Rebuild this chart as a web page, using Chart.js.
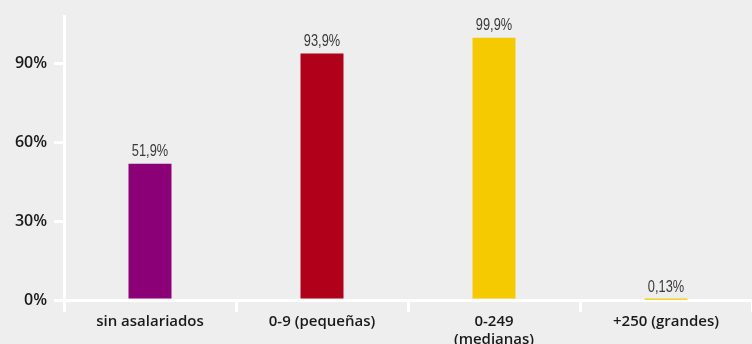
<!DOCTYPE html>
<html lang="es">
<head>
<meta charset="UTF-8">
<title>Empresas por tamaño</title>
<script src="https://cdn.jsdelivr.net/npm/chart.js"></script>
<style>
  html, body { margin: 0; padding: 0; background: #eeeeee; }
  #wrap { width: 752px; height: 344px; overflow: hidden; }
</style>
</head>
<body>
<div id="wrap"><canvas id="chart" width="752" height="344"></canvas></div>
<script>
  const categories = ['sin asalariados', '0-9 (pequeñas)', ['0-249', '(medianas)'], '+250 (grandes)'];
  const values = [51.9, 93.9, 99.9, 0.13];
  const valueLabels = ['51,9%', '93,9%', '99,9%', '0,13%'];
  const yTicks = [0, 30, 60, 90];
  const barColors = ['#8b0076', '#b10019', '#f5ca00', '#f5ca00'];

  // etiquetas encima de cada barra (texto estrechado, como en el original)
  const valueLabelPlugin = {
    id: 'valueLabels',
    afterDatasetsDraw(chart) {
      const ctx = chart.ctx;
      const meta = chart.getDatasetMeta(0);
      ctx.font = '16px "Liberation Sans", sans-serif';
      ctx.fillStyle = '#3a3a3a';
      ctx.textAlign = 'center';
      ctx.textBaseline = 'bottom';
      meta.data.forEach((bar, i) => {
        ctx.save();
        ctx.translate(bar.x, bar.y - 4);
        ctx.scale(0.8, 1);
        ctx.fillText(valueLabels[i], 0, 0);
        ctx.restore();
      });
    }
  };

  const ctx = document.getElementById('chart').getContext('2d');
  new Chart(ctx, {
    type: 'bar',
    data: {
      labels: categories,
      datasets: [{
        data: values,
        backgroundColor: barColors,
        barPercentage: 0.25,
        categoryPercentage: 1.0
      }]
    },
    options: {
      responsive: false,
      animation: false,
      layout: { padding: { top: 10, left: 0, right: 0, bottom: 0 } },
      plugins: { legend: { display: false }, tooltip: { enabled: false } },
      scales: {
        x: {
          offset: true,
          border: { display: true, color: '#ffffff', width: 3 },
          grid: {
            offset: true,
            drawOnChartArea: false,
            drawTicks: true,
            tickLength: 12,
            color: '#ffffff',
            lineWidth: 3
          },
          ticks: {
            color: '#1a1a1a',
            font: { family: '"Open Sans", sans-serif', size: 15, weight: '600' },
            padding: 1,
            maxRotation: 0,
            autoSkip: false
          },
          afterFit(scale) { scale.height = 44; }
        },
        y: {
          min: 0,
          max: 108,
          border: { display: true, color: '#ffffff', width: 3 },
          grid: {
            drawOnChartArea: false,
            drawTicks: true,
            tickLength: 10,
            color: '#ffffff',
            lineWidth: 3
          },
          afterBuildTicks(scale) {
            scale.ticks = yTicks.map(v => ({ value: v }));
          },
          ticks: {
            color: '#1a1a1a',
            font: { family: '"Open Sans", sans-serif', size: 16, weight: '600' },
            padding: 7,
            callback: v => v + '%'
          },
          afterFit(scale) { scale.width = 64; }
        }
      }
    },
    plugins: [valueLabelPlugin]
  });
</script>
</body>
</html>
